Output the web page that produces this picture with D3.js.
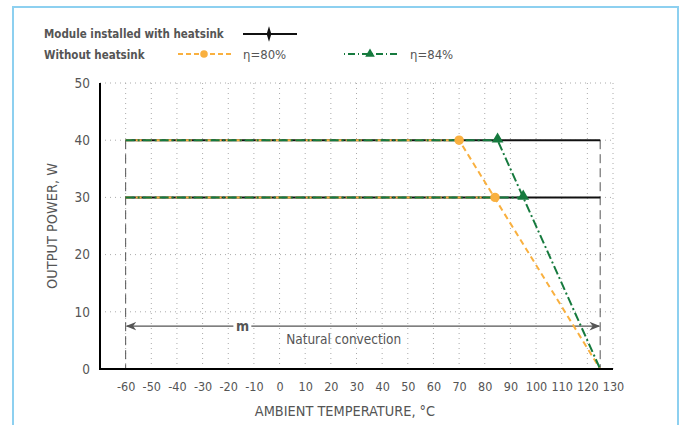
<!DOCTYPE html>
<html>
<head>
<meta charset="utf-8">
<script src="https://cdn.jsdelivr.net/npm/d3@7"></script>
<style>
  body { margin: 0; background: #fff; }
  text { font-family: "DejaVu Sans Condensed", "DejaVu Sans", sans-serif; }
</style>
</head>
<body>
<script>
// chart values
var xTicks = [-60, -50, -40, -30, -20, -10, 0, 10, 20, 30, 40, 50, 60, 70, 80, 90, 100, 110, 120, 130];
var yTicks = [0, 10, 20, 30, 40, 50];

var heatsink40 = [[-60, 40], [125, 40]];
var heatsink30 = [[-60, 30], [125, 30]];
// the 30 W curves join the 40 W derating line at their knee
var eta80_40 = [[-60, 40], [70, 40], [125, 0]];
var eta80_30 = [[-60, 30], [84, 30]];
var eta84_40 = [[-60, 40], [85, 40], [125, 0]];
var eta84_30 = [[-60, 30], [95, 30]];
var markers80 = [[70, 40], [84, 30]];
var markers84 = [[85, 40], [95, 30]];

var W = 685, H = 425;
var margin = {left: 100, right: 72, top: 83, bottom: 56};

var svg = d3.select("body").append("svg")
    .attr("width", W)
    .attr("height", H);

// light blue frame
svg.append("path")
    .attr("d", "M13,430 V7 H678 V430")
    .style("fill", "none")
    .style("stroke", "#8dd0f0")
    .style("stroke-width", 2);

var x = d3.scaleLinear().domain([-70, 130]).range([margin.left, W - margin.right]);
var y = d3.scaleLinear().domain([0, 50]).range([H - margin.bottom, margin.top]);

var grid = svg.append("g");
grid.selectAll(".vg").data(xTicks).enter().append("line")
    .attr("x1", function(d) { return x(d); })
    .attr("x2", function(d) { return x(d); })
    .attr("y1", y(50)).attr("y2", y(0))
    .style("stroke", "#aaa").style("stroke-width", 1)
    .style("stroke-dasharray", "1,4");
grid.selectAll(".hg").data(yTicks.slice(1)).enter().append("line")
    .attr("x1", x(-70)).attr("x2", x(130))
    .attr("y1", function(d) { return y(d); })
    .attr("y2", function(d) { return y(d); })
    .style("stroke", "#aaa").style("stroke-width", 1)
    .style("stroke-dasharray", "1,4");

// x axis
var xAxis = d3.axisBottom(x).tickValues(xTicks).tickSize(0).tickPadding(13)
    .tickFormat(function(d) { return String(d); });
var gx = svg.append("g")
    .attr("transform", "translate(0," + y(0) + ")")
    .call(xAxis);
gx.select(".domain").remove();
gx.selectAll("text").style("font-size", "12.5px").style("fill", "#555")
    .style("font-family", "'DejaVu Sans Condensed', sans-serif");

var yAxis = d3.axisLeft(y).tickValues(yTicks).tickSize(0).tickPadding(10)
    .tickFormat(function(d) { return String(d); });
var gy = svg.append("g")
    .attr("transform", "translate(" + x(-70) + ",0)")
    .call(yAxis);
gy.select(".domain").remove();
gy.selectAll("text").style("font-size", "13.5px").style("fill", "#555")
    .style("font-family", "'DejaVu Sans Condensed', sans-serif");

// dashed limits
svg.append("line")
    .attr("x1", x(-60)).attr("x2", x(-60)).attr("y1", y(40)).attr("y2", y(0))
    .style("stroke", "#555").style("stroke-dasharray", "9,5");
svg.append("line")
    .attr("x1", x(125)).attr("x2", x(125)).attr("y1", y(40)).attr("y2", y(0))
    .style("stroke", "#555").style("stroke-dasharray", "9,5");

// arrow with m
var defs = svg.append("defs");
defs.append("marker").attr("id", "arr").attr("viewBox", "0 0 10 10")
    .attr("refX", 9).attr("refY", 5).attr("markerWidth", 9).attr("markerHeight", 9)
    .attr("orient", "auto-start-reverse")
    .append("path").attr("d", "M0,1 L10,5 L0,9 L3,5 Z").style("fill", "#555");
var ay = y(7.5);
svg.append("line")
    .attr("x1", x(-60) + 1).attr("x2", x(-18)).attr("y1", ay).attr("y2", ay)
    .style("stroke", "#555").style("stroke-width", 1.2)
    .attr("marker-start", "url(#arr)");
svg.append("line")
    .attr("x1", x(-11)).attr("x2", x(125) - 1).attr("y1", ay).attr("y2", ay)
    .style("stroke", "#555").style("stroke-width", 1.2)
    .attr("marker-end", "url(#arr)");
svg.append("text").attr("x", x(-14.4)).attr("y", ay + 5)
    .attr("text-anchor", "middle")
    .style("font-size", "14px").style("font-weight", "bold").style("fill", "#555")
    .text("m");
svg.append("text").attr("x", x(25)).attr("y", y(4.4))
    .attr("text-anchor", "middle")
    .style("font-size", "13.5px").style("fill", "#555")
    .text("Natural convection");

var line = d3.line()
    .x(function(d) { return x(d[0]); })
    .y(function(d) { return y(d[1]); });

// series
[heatsink40, heatsink30].forEach(function(s) {
    svg.append("path").attr("d", line(s))
        .style("fill", "none").style("stroke", "#111").style("stroke-width", 2);
});
[eta80_40, eta80_30].forEach(function(s) {
    svg.append("path").attr("d", line(s))
        .style("fill", "none").style("stroke", "#f9b03f").style("stroke-width", 2)
        .style("stroke-dasharray", "6,4");
});
[eta84_40, eta84_30].forEach(function(s) {
    svg.append("path").attr("d", line(s))
        .style("fill", "none").style("stroke", "#167a3e").style("stroke-width", 2)
        .style("stroke-dasharray", "9,3,2,3");
});

var circle = d3.symbol().type(d3.symbolCircle).size(70);
var tri = d3.symbol().type(d3.symbolTriangle).size(60);
svg.selectAll(".m80").data(markers80).enter().append("path")
    .attr("d", circle)
    .attr("transform", function(d) { return "translate(" + x(d[0]) + "," + y(d[1]) + ")"; })
    .style("fill", "#f9b03f");
svg.selectAll(".m84").data(markers84).enter().append("path")
    .attr("d", tri)
    .attr("transform", function(d) { return "translate(" + x(d[0]) + "," + (y(d[1]) - 1) + ")"; })
    .style("fill", "#167a3e");

// axes lines
svg.append("line").attr("x1", x(-70)).attr("x2", x(-70)).attr("y1", y(50)).attr("y2", y(0) + 1)
    .style("stroke", "#000").style("stroke-width", 2);
svg.append("line").attr("x1", x(-70) - 1).attr("x2", x(130)).attr("y1", y(0)).attr("y2", y(0))
    .style("stroke", "#000").style("stroke-width", 2);

// axis titles
svg.append("text").attr("x", 345).attr("y", 416)
    .attr("text-anchor", "middle")
    .style("font-size", "14.4px").style("fill", "#555")
    .text("AMBIENT TEMPERATURE, °C");
svg.append("text")
    .attr("transform", "translate(57," + ((y(0) + y(50)) / 2) + ") rotate(-90)")
    .attr("text-anchor", "middle")
    .style("font-size", "14.4px").style("fill", "#555")
    .text("OUTPUT POWER, W");

// legend
var lg = svg.append("g");
lg.append("text").attr("x", 44).attr("y", 38)
    .style("font-size", "11.5px").style("font-weight", "bold").style("fill", "#555")
    .text("Module installed with heatsink");
lg.append("line").attr("x1", 243).attr("x2", 297).attr("y1", 34).attr("y2", 34)
    .style("stroke", "#111").style("stroke-width", 2);
lg.append("path").attr("d", d3.symbol().type(d3.symbolDiamond).size(40))
    .attr("transform", "translate(269,34) scale(0.7,1.3)").style("fill", "#111");

lg.append("text").attr("x", 44).attr("y", 59)
    .style("font-size", "11.5px").style("font-weight", "bold").style("fill", "#555")
    .text("Without heatsink");
lg.append("line").attr("x1", 178).attr("x2", 232).attr("y1", 54).attr("y2", 54)
    .style("stroke", "#f9b03f").style("stroke-width", 2).style("stroke-dasharray", "5,3");
lg.append("path").attr("d", d3.symbol().type(d3.symbolCircle).size(45))
    .attr("transform", "translate(204,54)").style("fill", "#f9b03f");
lg.append("text").attr("x", 243).attr("y", 59)
    .style("font-size", "13px").style("fill", "#555").text("η=80%");

lg.append("line").attr("x1", 344).attr("x2", 400).attr("y1", 54).attr("y2", 54)
    .style("stroke", "#167a3e").style("stroke-width", 2).style("stroke-dasharray", "1,3,7,3");
lg.append("path").attr("d", d3.symbol().type(d3.symbolTriangle).size(40))
    .attr("transform", "translate(370,54)").style("fill", "#167a3e");
lg.append("text").attr("x", 410).attr("y", 59)
    .style("font-size", "13px").style("fill", "#555").text("η=84%");
</script>
</body>
</html>
